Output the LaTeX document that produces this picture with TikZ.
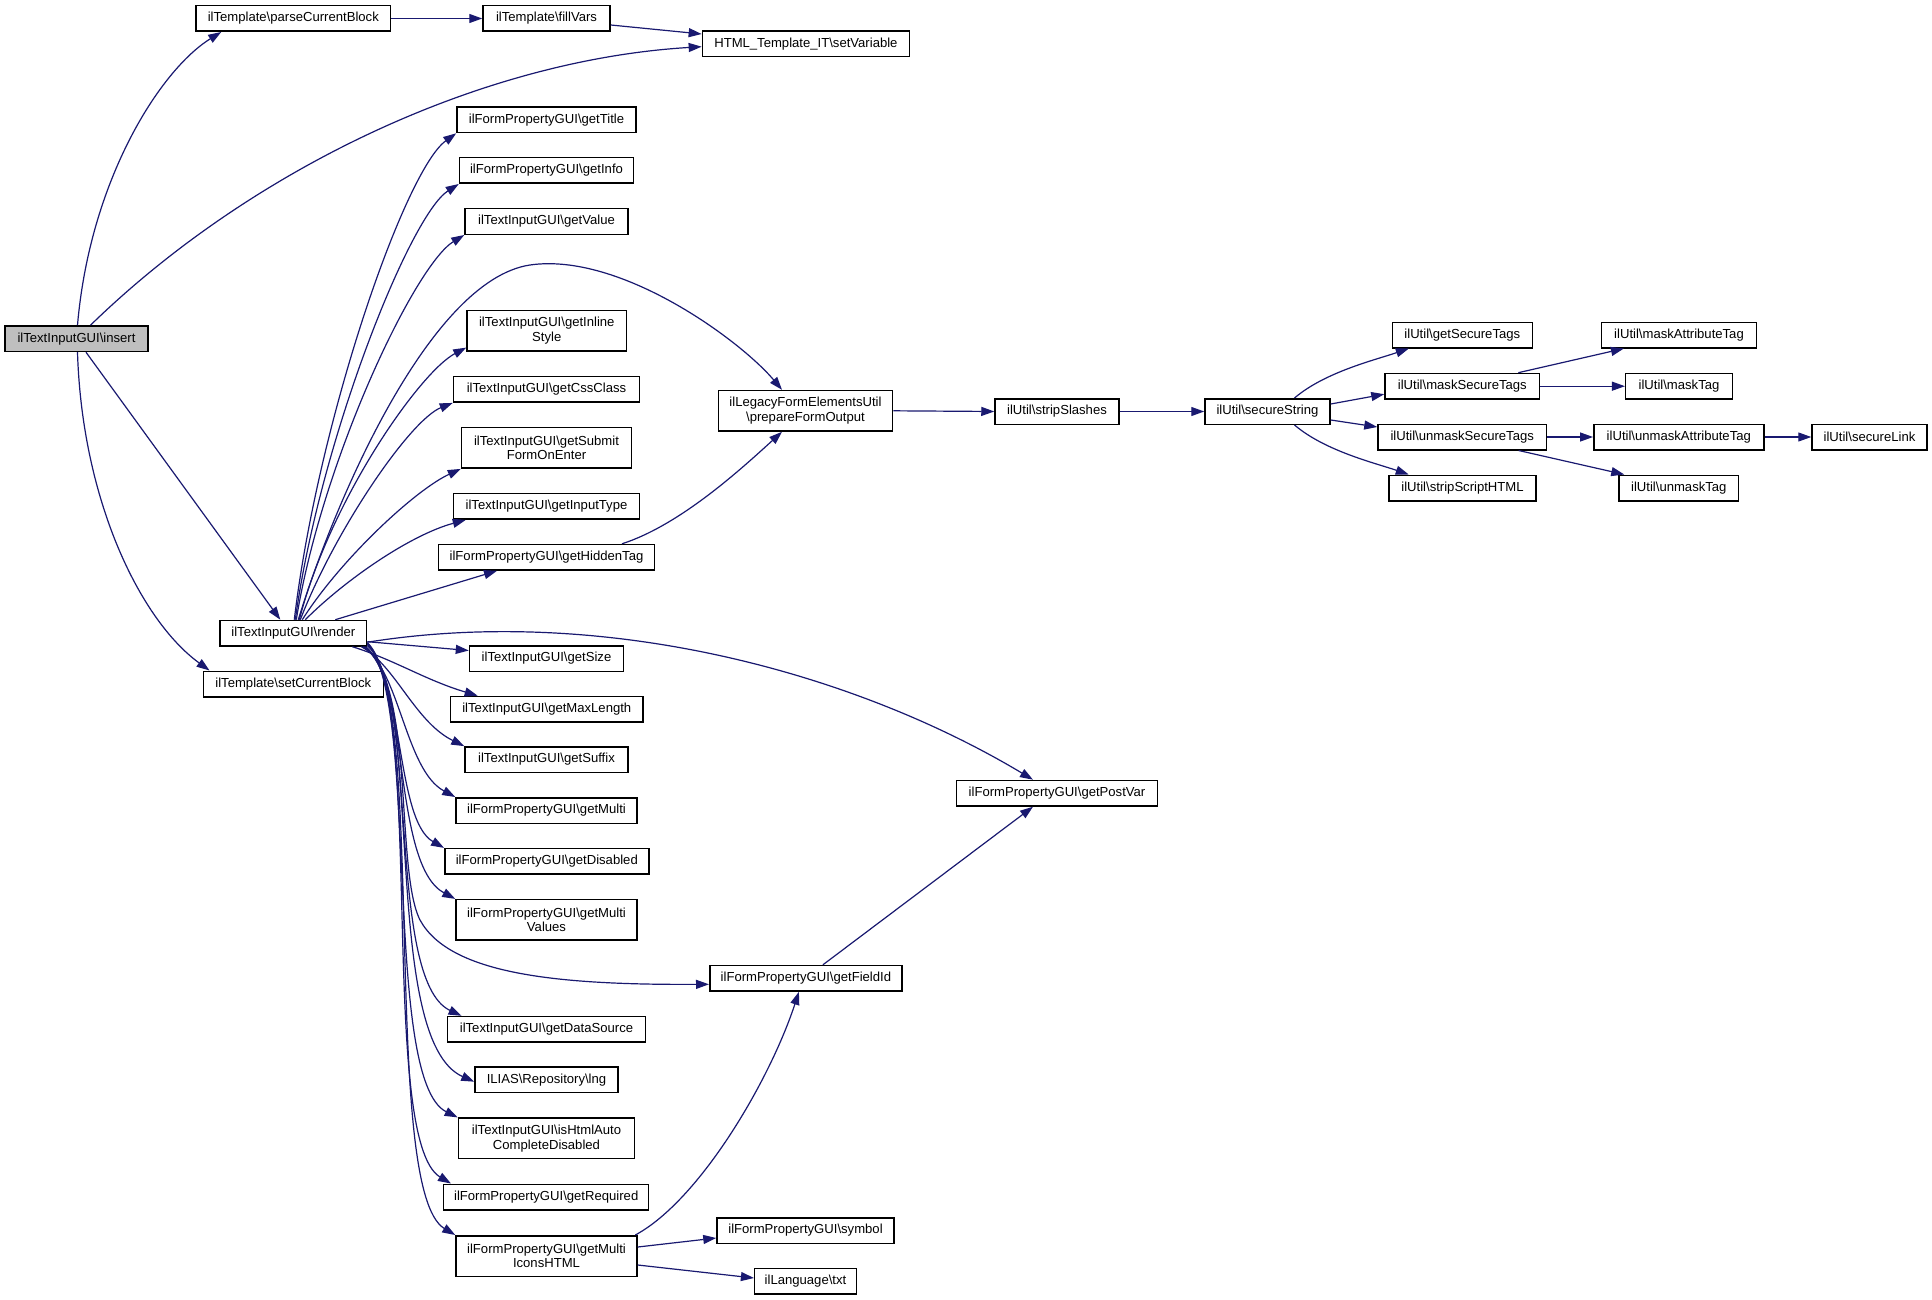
\documentclass[tikz,border=0pt]{standalone}
\usepackage{fontspec}
\setmainfont{Liberation Sans}
\usetikzlibrary{arrows.meta}
\definecolor{edgec}{HTML}{191970}
\definecolor{insertgray}{HTML}{BFBFBF}
\newcommand\BSL{\textbackslash}
\begin{document}
\begin{tikzpicture}[x=1pt,y=-1pt,
  box/.style={draw=black, line width=1.5pt, fill=white, inner sep=0pt, minimum height=25.5pt,
    font=\fontsize{13.1pt}{14.6pt}\selectfont, align=center},
  box2/.style={box, minimum height=40.5pt},
  e/.style={draw=edgec, line width=1.2pt, -{Triangle[length=13pt,width=9pt]}}]
\fill[white] (0,0) rectangle (1932,1300);
\useasboundingbox (0,0) rectangle (1932,1300);

% nodes
\node[box, minimum width=143pt, fill=insertgray] (insert) at (76.5,338.7) {ilTextInputGUI\BSL insert};
\node[box, minimum width=194.6pt] (parse) at (293.3,18.5) {ilTemplate\BSL parseCurrentBlock};
\node[box, minimum width=127pt] (fill) at (546.5,18.5) {ilTemplate\BSL fillVars};
\node[box, minimum width=207pt] (setvar) at (805.9,43.7) {HTML\_Template\_IT\BSL setVariable};
\node[box, minimum width=179pt] (title) at (546.5,119.8) {ilFormPropertyGUI\BSL getTitle};
\node[box, minimum width=174pt] (info) at (546.5,170.5) {ilFormPropertyGUI\BSL getInfo};
\node[box, minimum width=163pt] (value) at (546.5,221.5) {ilTextInputGUI\BSL getValue};
\node[box2, minimum width=159.6pt] (inline) at (546.8,330.6) {ilTextInputGUI\BSL getInline\\Style};
\node[box, minimum width=186pt] (css) at (546.5,389.4) {ilTextInputGUI\BSL getCssClass};
\node[box2, minimum width=170pt] (submit) at (546.5,447.9) {ilTextInputGUI\BSL getSubmit\\FormOnEnter};
\node[box, minimum width=186pt] (itype) at (546.5,506.4) {ilTextInputGUI\BSL getInputType};
\node[box, minimum width=215.6pt] (hidden) at (546.5,557.3) {ilFormPropertyGUI\BSL getHiddenTag};
\node[box2, minimum width=174.3pt] (prep) at (805.5,410.8) {ilLegacyFormElementsUtil\\\BSL prepareFormOutput};
\node[box, minimum width=146.6pt] (render) at (293.3,633.2) {ilTextInputGUI\BSL render};
\node[box, minimum width=180pt] (setcb) at (293.3,684) {ilTemplate\BSL setCurrentBlock};
\node[box, minimum width=154pt] (size) at (546.5,658.5) {ilTextInputGUI\BSL getSize};
\node[box, minimum width=192.8pt] (maxlen) at (546.8,709.2) {ilTextInputGUI\BSL getMaxLength};
\node[box, minimum width=163pt] (suffix) at (546.5,759.6) {ilTextInputGUI\BSL getSuffix};
\node[box, minimum width=181pt] (multi) at (546.5,810.5) {ilFormPropertyGUI\BSL getMulti};
\node[box, minimum width=204pt] (disabled) at (546.8,861.4) {ilFormPropertyGUI\BSL getDisabled};
\node[box2, minimum width=181pt] (mvalues) at (546.5,919.9) {ilFormPropertyGUI\BSL getMulti\\Values};
\node[box, minimum width=192.3pt] (fieldid) at (805.9,978.3) {ilFormPropertyGUI\BSL getFieldId};
\node[box, minimum width=198.4pt] (dsource) at (546.5,1029.3) {ilTextInputGUI\BSL getDataSource};
\node[box, minimum width=143pt] (lng) at (546.5,1079.7) {ILIAS\BSL Repository\BSL lng};
\node[box2, minimum width=176.2pt] (autoc) at (546.5,1138.4) {ilTextInputGUI\BSL isHtmlAuto\\CompleteDisabled};
\node[box, minimum width=205pt] (required) at (546.2,1197) {ilFormPropertyGUI\BSL getRequired};
\node[box2, minimum width=181pt] (micons) at (546.5,1256) {ilFormPropertyGUI\BSL getMulti\\IconsHTML};
\node[box, minimum width=177pt] (symbol) at (805.5,1230.5) {ilFormPropertyGUI\BSL symbol};
\node[box, minimum width=101.7pt] (txt) at (805.5,1281) {ilLanguage\BSL txt};
\node[box, minimum width=200.6pt] (postvar) at (1057,793.2) {ilFormPropertyGUI\BSL getPostVar};
\node[box, minimum width=124pt] (strip) at (1057,411.5) {ilUtil\BSL stripSlashes};
\node[box, minimum width=125pt] (secure) at (1267.5,411.5) {ilUtil\BSL secureString};
\node[box, minimum width=140pt] (gettags) at (1462.3,335) {ilUtil\BSL getSecureTags};
\node[box, minimum width=154.6pt] (masktags) at (1462.3,386.2) {ilUtil\BSL maskSecureTags};
\node[box, minimum width=168.4pt] (unmasktags) at (1462.2,437) {ilUtil\BSL unmaskSecureTags};
\node[box, minimum width=147pt] (script) at (1462.5,488) {ilUtil\BSL stripScriptHTML};
\node[box, minimum width=154.7pt] (maskattr) at (1679,335) {ilUtil\BSL maskAttributeTag};
\node[box, minimum width=106.6pt] (masktag) at (1679,386.2) {ilUtil\BSL maskTag};
\node[box, minimum width=170pt] (unmaskattr) at (1678.8,437) {ilUtil\BSL unmaskAttributeTag};
\node[box, minimum width=115pt] (link) at (1869.5,437) {ilUtil\BSL secureLink};
\node[box, minimum width=119.6pt] (unmasktag) at (1678.8,488) {ilUtil\BSL unmaskTag};

% edges from insert
\draw[e] ([xshift=1pt]insert.north) .. controls (90,180) and (160,70) .. ([xshift=26pt]parse.south west);
\draw[e] ([xshift=14pt]insert.north) .. controls (250,170) and (480,60) .. ([yshift=-3pt]setvar.west);
\draw[e] ([xshift=9.5pt]insert.south) -- ([xshift=-13pt]render.north);
\draw[e] ([xshift=1pt]insert.south) .. controls (82,500) and (140,620) .. ([xshift=7pt]setcb.north west);
\draw[e] (parse.east) -- (fill.west);
\draw[e] ([yshift=-6.5pt]fill.east) -- ([yshift=9.7pt]setvar.west);

% upward fan from render
\draw[e] ([xshift=1pt]render.north) .. controls (318,420) and (405,170) .. (title.south west);
\draw[e] ([xshift=2pt]render.north) .. controls (320,440) and (410,215) .. (info.south west);
\draw[e] ([xshift=3pt]render.north) .. controls (322,460) and (415,265) .. (value.south west);
\draw[e] ([xshift=5pt]render.north) .. controls (335,500) and (430,280) .. (530,265)
   .. controls (620,252) and (740,340) .. ([xshift=-23.5pt]prep.north);
\draw[e] ([xshift=6pt]render.north) .. controls (330,500) and (420,372) .. ([yshift=4pt]inline.south west);
\draw[e] ([xshift=7pt]render.north) .. controls (335,530) and (410,420) .. (css.south west);
\draw[e] ([xshift=9pt]render.north) .. controls (340,560) and (415,490) .. (submit.south west);
\draw[e] ([xshift=12pt]render.north) .. controls (345,580) and (410,535) .. ([xshift=13pt]itype.south west);
\draw[e] ([xshift=42pt]render.north) -- ([xshift=-49.5pt]hidden.south);
\draw[e] ([xshift=75.5pt]hidden.north) .. controls (680,525) and (740,470) .. ([xshift=-23.5pt]prep.south);

% render to the right
\draw[e] ([yshift=-9pt]render.east) .. controls (600,605) and (850,670) .. ([xshift=-24pt]postvar.north);
\draw[e] ([yshift=5pt]render.south east) -- ([yshift=8pt]size.west);
\draw[e] ([xshift=-15pt]render.south east) .. controls (395,660) and (425,680) .. ([xshift=28pt]maxlen.north west);

% downward fan from render
\draw[e] ([xshift=-6pt]render.south east) .. controls (395,665) and (415,722) .. (suffix.north west);
\draw[e] ([xshift=-4.5pt]render.south east) .. controls (400,670) and (405,770) .. (multi.north west);
\draw[e] ([xshift=-3.5pt]render.south east) .. controls (405,675) and (395,820) .. (disabled.north west);
\draw[e] ([xshift=-2.5pt]render.south east) .. controls (410,680) and (392,865) .. (mvalues.north west);
\draw[e] ([xshift=-1.5pt]render.south east) .. controls (415,690) and (395,870) .. (420,920)
   .. controls (450,975) and (560,985) .. ([yshift=-6pt]fieldid.west);
\draw[e] ([yshift=1pt]render.south east) .. controls (420,690) and (385,980) .. ([xshift=15pt]dsource.north west);
\draw[e] ([yshift=2pt]render.south east) .. controls (425,700) and (380,1040) .. ([yshift=-2pt]lng.west);
\draw[e] ([yshift=3pt]render.south east) .. controls (420,700) and (382,1080) .. (autoc.north west);
\draw[e] ([yshift=3.5pt]render.south east) .. controls (425,700) and (378,1140) .. ([xshift=8pt]required.north west);
\draw[e] ([yshift=4pt]render.south east) .. controls (428,700) and (380,1190) .. (micons.north west);

% lower right
\draw[e] ([xshift=-2.4pt]micons.north east) .. controls (700,1200) and (770,1080) .. ([xshift=-7pt]fieldid.south);
\draw[e] ([yshift=9pt]micons.east) -- ([yshift=-7.5pt]symbol.west);
\draw[e] ([yshift=-9pt]micons.east) -- ([yshift=3pt]txt.west);
\draw[e] ([xshift=17pt]fieldid.north) -- ([xshift=-24pt]postvar.south);

% right part
\draw[e] (prep.east) -- (strip.west);
\draw[e] (strip.east) -- (secure.west);
\draw[e] ([xshift=27pt]secure.north) .. controls (1325,372) and (1375,360) .. ([xshift=17.3pt]gettags.south west);
\draw[e] ([yshift=7.5pt]secure.east) -- ([yshift=-8pt]masktags.west);
\draw[e] ([yshift=-8.5pt]secure.east) -- ([yshift=10pt]unmasktags.west);
\draw[e] ([xshift=27pt]secure.south) .. controls (1325,451) and (1375,463) .. ([xshift=20.5pt]script.north west);
\draw[e] ([xshift=56pt]masktags.north) -- ([xshift=23pt]maskattr.south west);
\draw[e] (masktags.east) -- (masktag.west);
\draw[e] (unmasktags.east) -- (unmaskattr.west);
\draw[e] (unmaskattr.east) -- (link.west);
\draw[e] ([xshift=56.4pt]unmasktags.south) -- ([xshift=6pt]unmasktag.north west);
\end{tikzpicture}
\end{document}
